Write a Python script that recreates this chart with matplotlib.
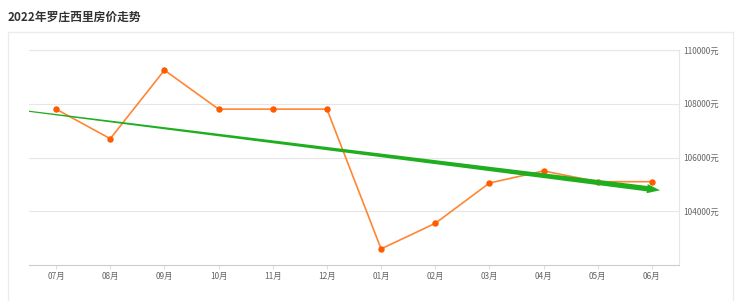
import matplotlib.pyplot as plt
from matplotlib.patches import Rectangle, Polygon
import numpy as np

plt.rcParams['font.family'] = ['Noto Sans CJK SC', 'DejaVu Sans']

# data
months = ['07月', '08月', '09月', '10月', '11月', '12月',
          '01月', '02月', '03月', '04月', '05月', '06月']
prices = [107800, 106700, 109250, 107800, 107800, 107800,
          102600, 103550, 105050, 105500, 105100, 105100]
# trend arrow: start / end value, at index -0.5 and 11.15
trend_x = [-0.5, 11.15]
trend_y = [107720, 104780]
yticks = [104000, 106000, 108000, 110000]

W, H = 740, 301
fig = plt.figure(figsize=(W / 100, H / 100), dpi=100)

# card border + title
fig.patches.append(Rectangle((8 / W, -0.05), 725 / W, 1 - 32 / H + 0.05,
                             transform=fig.transFigure, fill=False,
                             edgecolor='#ececec', linewidth=1))
fig.text(8 / W, 1 - 17 / H, '2022年罗庄西里房价走势', fontsize=8.5,
         fontweight='bold', color='#333333', va='center', ha='left')

ax = fig.add_axes([29 / W, 1 - 265 / H, 650 / W, 215 / H])
x = np.arange(len(months))

ax.plot(x, prices, color='#ff8633', linewidth=1.2, zorder=3)
ax.scatter(x, prices, color='#ff5a00', s=13, zorder=4)

ax.set_xlim(-0.5, len(months) - 0.5)
ax.set_ylim(102000, 110000)

# tapered green trend arrow, built in pixel space then mapped back to data
p0, p1 = ax.transData.transform(np.column_stack([trend_x, trend_y]))
d = (p1 - p0) / np.linalg.norm(p1 - p0)
nrm = np.array([-d[1], d[0]])
head_len, head_w, tail_w, body_w = 13, 4.6, 0.6, 2.7
hb = p1 - d * head_len
pts = [p0 + nrm * tail_w, hb + nrm * body_w, hb + nrm * head_w, p1,
       hb - nrm * head_w, hb - nrm * body_w, p0 - nrm * tail_w]
pts = ax.transData.inverted().transform(np.array(pts))
ax.add_patch(Polygon(pts, closed=True, facecolor='#1fae1f',
                     edgecolor='none', zorder=5))

ax.set_xticks(x)
ax.set_xticklabels(months)
ax.set_yticks(yticks)
ax.set_yticklabels([f'{v}元' for v in yticks])
ax.yaxis.tick_right()
ax.tick_params(axis='y', length=0, labelsize=6, labelcolor='#666666', pad=3)
ax.tick_params(axis='x', length=3, color='#dddddd', labelsize=6,
               labelcolor='#666666', pad=2)
ax.grid(axis='y', color='#e6e6e6', linewidth=0.8)
ax.set_axisbelow(True)
ax.spines['left'].set_visible(False)
ax.spines['bottom'].set_color('#cccccc')
ax.spines['top'].set_color('#e6e6e6')
ax.spines['right'].set_color('#e6e6e6')

fig.savefig('out.png', dpi=100)
